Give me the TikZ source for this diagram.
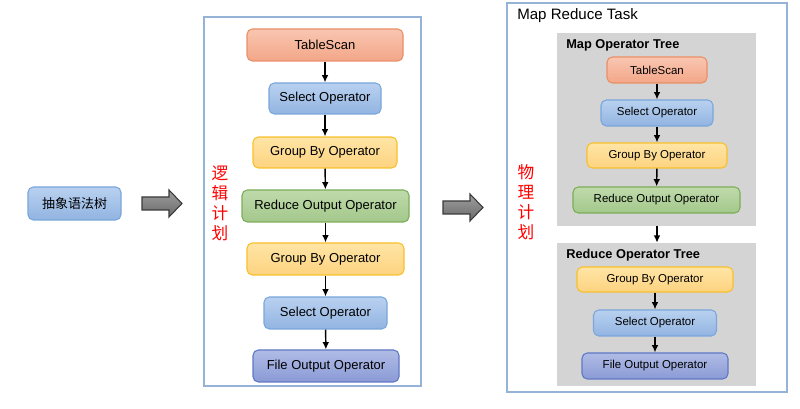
\documentclass[tikz,border=0pt]{standalone}
\usepackage{fontspec}
\setmainfont{Liberation Sans}
\newfontfamily\cjk{Noto Sans CJK SC}
\usetikzlibrary{arrows.meta,positioning}
\definecolor{ScanTop}{HTML}{F9C6B1}
\definecolor{ScanBot}{HTML}{F3A688}
\definecolor{ScanLine}{HTML}{E98F68}
\definecolor{SelTop}{HTML}{B9D1F0}
\definecolor{SelBot}{HTML}{92B4E1}
\definecolor{SelLine}{HTML}{7AA6DB}
\definecolor{GrpTop}{HTML}{FFE5A6}
\definecolor{GrpBot}{HTML}{FDD37F}
\definecolor{GrpLine}{HTML}{F8C02C}
\definecolor{RsTop}{HTML}{BFDAAB}
\definecolor{RsBot}{HTML}{A3C88B}
\definecolor{RsLine}{HTML}{7CAD58}
\definecolor{FileTop}{HTML}{B0BCE6}
\definecolor{FileBot}{HTML}{8A9AD5}
\definecolor{FileLine}{HTML}{5F78C4}
\definecolor{FrameLine}{HTML}{95B3D7}
\definecolor{PanelGray}{HTML}{D4D4D4}
\definecolor{ArrowTop}{HTML}{9E9E9E}
\definecolor{ArrowBot}{HTML}{6A6A6A}
\definecolor{ArrowLine}{HTML}{3A3A3A}
\newlength{\pxu}
\setlength{\pxu}{0.75pt}
\tikzset{
  opbox/.style={
    rounded corners=4pt, line width=0.8pt, inner sep=0pt,
    font=\fontsize{9.75}{11}\selectfont
  },
  scanop/.style={opbox, draw=ScanLine, top color=ScanTop, bottom color=ScanBot},
  selop/.style={opbox, draw=SelLine, top color=SelTop, bottom color=SelBot},
  groupop/.style={opbox, draw=GrpLine, top color=GrpTop, bottom color=GrpBot},
  rsop/.style={opbox, draw=RsLine, top color=RsTop, bottom color=RsBot},
  fileop/.style={opbox, draw=FileLine, top color=FileTop, bottom color=FileBot},
  smallop/.style={font=\fontsize{8.6}{10}\selectfont},
  flow/.style={-{Latex[length=5.5pt,width=5pt]}, line width=1.1pt, draw=black},
  planframe/.style={draw=FrameLine, line width=1.1pt},
  treepanel/.style={fill=PanelGray, draw=none, inner sep=0pt},
  treetitle/.style={anchor=west, inner sep=0pt, font=\fontsize{9.6}{11}\selectfont\bfseries},
  bigarrow/.style={draw=ArrowLine, line width=0.8pt, top color=ArrowTop, bottom color=ArrowBot},
  plantag/.style={text=red, align=center, inner sep=0pt, font=\cjk\fontsize{12.5}{15}\selectfont}
}
\begin{document}
\begin{tikzpicture}[x=0.75pt,y=-0.75pt]
    \useasboundingbox (0,0) rectangle (800,409);
    % input
    \node[selop, font=\cjk\fontsize{9.75}{11}\selectfont, minimum width=93\pxu, minimum height=33\pxu] (ast) at (74.5,203.5) {抽象语法树};
    \draw[bigarrow] (142,197) -- (169,197) -- (169,190) -- (182,203.5) -- (169,217) -- (169,210) -- (142,210) -- cycle;

    % logical plan
    \draw[planframe] (204,17) rectangle (421,386);
    \node[plantag] (logtag) at (220,203) {逻\\辑\\计\\划};
    \node[scanop, minimum width=156\pxu, minimum height=32\pxu] (ltable) at (325,45) {TableScan};
    \node[selop, minimum width=112\pxu, minimum height=31\pxu] (lsel1) at (325,98.5) {Select Operator};
    \node[groupop, minimum width=144\pxu, minimum height=31\pxu] (lgrp1) at (325,152.5) {Group By Operator};
    \node[rsop, minimum width=167\pxu, minimum height=32\pxu] (lrs) at (325.5,206) {Reduce Output Operator};
    \node[groupop, minimum width=157\pxu, minimum height=32\pxu] (lgrp2) at (325.5,259) {Group By Operator};
    \node[selop, minimum width=123\pxu, minimum height=32\pxu] (lsel2) at (325.5,313) {Select Operator};
    \node[fileop, minimum width=146\pxu, minimum height=32\pxu] (lfile) at (326,366) {File Output Operator};
    \draw[flow] (ltable) -- (lsel1);
    \draw[flow] (lsel1) -- (lgrp1);
    \draw[flow] (lgrp1) -- (lrs);
    \draw[flow] (lrs) -- (lgrp2);
    \draw[flow] (lgrp2) -- (lsel2);
    \draw[flow] (lsel2) -- (lfile);

    \draw[bigarrow] (443,201) -- (470,201) -- (470,194) -- (483,207.5) -- (470,221) -- (470,214) -- (443,214) -- cycle;

    % physical plan
    \draw[planframe] (507,3) rectangle (787,392);
    \node[anchor=west, inner sep=0pt, font=\fontsize{11.3}{13}\selectfont] (mrtask) at (517,16) {Map Reduce Task};
    \node[plantag] (phytag) at (526,202) {物\\理\\计\\划};
    \node[treepanel, minimum width=199\pxu, minimum height=193\pxu] (mappanel) at (656.5,129.5) {};
    \node[treepanel, minimum width=199\pxu, minimum height=143\pxu] (redpanel) at (656.5,314.5) {};
    \node[treetitle] (maptitle) at (566,45) {Map Operator Tree};
    \node[treetitle] (redtitle) at (566,255) {Reduce Operator Tree};
    \node[scanop, smallop, minimum width=100\pxu, minimum height=26\pxu] (ptable) at (657,70) {TableScan};
    \node[selop, smallop, minimum width=112\pxu, minimum height=26\pxu] (psel1) at (657,113) {Select Operator};
    \node[groupop, smallop, minimum width=140\pxu, minimum height=25\pxu] (pgrp1) at (657,155.5) {Group By Operator};
    \node[rsop, smallop, minimum width=167\pxu, minimum height=26\pxu] (prs) at (656.5,200) {Reduce Output Operator};
    \node[groupop, smallop, minimum width=156\pxu, minimum height=25\pxu] (pgrp2) at (655,279.5) {Group By Operator};
    \node[selop, smallop, minimum width=123\pxu, minimum height=26\pxu] (psel2) at (655,323) {Select Operator};
    \node[fileop, smallop, minimum width=146\pxu, minimum height=26\pxu] (pfile) at (655,366) {File Output Operator};
    \draw[flow] (ptable) -- (psel1);
    \draw[flow] (psel1) -- (pgrp1);
    \draw[flow] (pgrp1) -- (prs);
    \draw[flow] (mappanel.south -| ptable) -- (redpanel.north -| ptable);
    \draw[flow] (pgrp2) -- (psel2);
    \draw[flow] (psel2) -- (pfile);
\end{tikzpicture}
\end{document}
